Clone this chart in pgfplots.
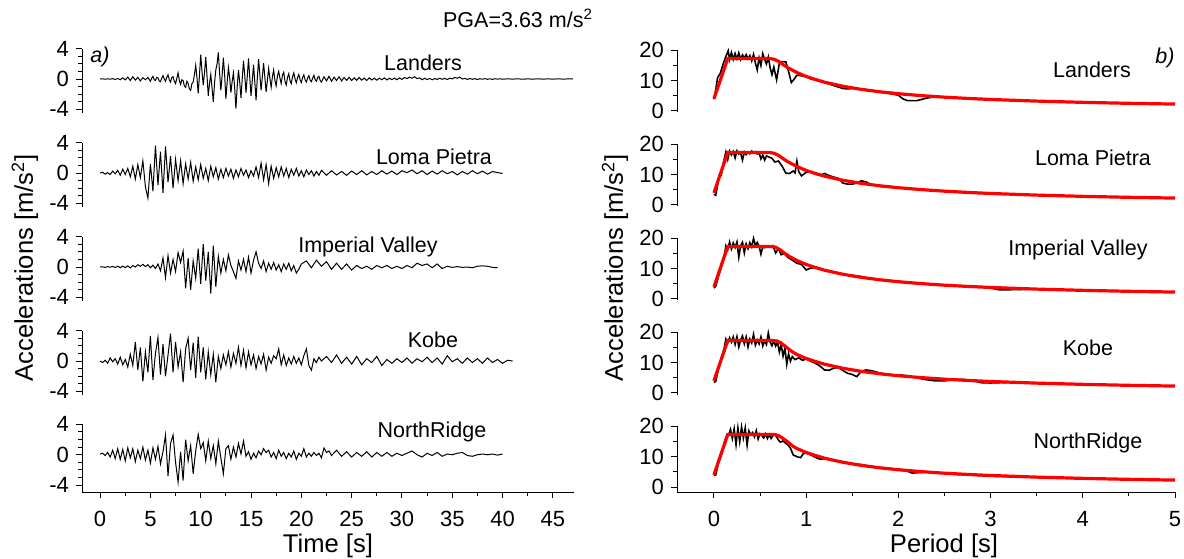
\documentclass[border=0pt]{standalone}
\usepackage{pgfplots}
\pgfplotsset{compat=1.18}
\usepackage{fontspec}
\setmainfont{Liberation Sans}
\begin{document}
\begin{tikzpicture}[x=1pt,y=1pt]
\useasboundingbox (0,0) rectangle (592,279);
\pgfplotsset{
  base/.style={scale only axis, clip=false,
    axis line style={-, line width=0.5pt}, tick align=outside,
    major tick length=3pt, minor tick length=1.8pt,
    every tick/.style={line width=0.5pt, black},
    every tick label/.append style={font=\fontsize{11}{12}\selectfont},
    xticklabel style={yshift=-3pt},
    /pgf/number format/assume math mode=true},
  up/.style={axis x line=none, axis y line*=left},
  bot/.style={axis x line*=bottom, axis y line*=left},
  lft/.style={base, width=246pt, xmin=-1.8, xmax=47.1, ymax=4, ytick={-4,0,4}, minor y tick num=3},
  lftup/.style={lft, up, ymin=-4.5, height=32.3pt},
  rgt/.style={base, width=249pt, xmin=-0.4, xmax=5, ymax=20, ytick={0,10,20}, minor y tick num=1},
  rgtup/.style={rgt, up, ymin=-0.5, height=31.06pt},
  acc/.style={black, line width=0.5pt},
  spk/.style={black, line width=0.8pt},
  dsg/.style={red, line width=1.6pt},
}
% ---------------- left column ----------------
\begin{axis}[lftup, at={(41pt,222.4pt)}, anchor=south west]
\addplot[acc] coordinates {(0,0)(0.25,0.02)(0.5,-0.03)(0.75,0.02)(1,-0.02)(1.25,0.04)(1.5,-0.05)(1.75,0.06)(2,-0.1)(2.25,0.15)(2.5,-0.12)(2.75,0.25)(3,-0.2)(3.25,0.3)(3.5,-0.15)(3.75,0.22)(4,-0.25)(4.25,0.18)(4.5,-0.1)(4.75,0.2)
(5,-0.3)(5.125,0.1)(5.25,0.35)(5.375,-0.1)(5.5,-0.2)(5.625,0.2)(5.75,0.15)(5.875,-0.25)(6,-0.35)(6.125,0.1)(6.25,0.45)(6.375,0.0)(6.5,-0.3)(6.625,0.2)(6.75,0.55)(6.875,-0.1)(7,-0.4)(7.125,0.2)(7.25,0.3)(7.375,-0.3)(7.5,-0.6)(7.625,0.1)(7.75,0.8)(7.875,-0.2)(8,-0.7)(8.125,-0.1)(8.25,-0.2)(8.375,-0.9)(8.5,-1.1)(8.625,-0.3)(8.75,-0.6)(8.875,-1.3)(9,-1.5)(9.125,-0.6)(9.25,-0.4)(9.375,0.6)(9.5,1.8)(9.625,0.2)(9.75,-1.9)(9.875,0.5)(10,3.2)(10.125,1.0)(10.25,-0.8)(10.375,0.8)(10.5,2.9)(10.625,0.4)(10.75,-2.2)(10.875,-0.6)(11,0.6)(11.125,-1.2)(11.25,-3.0)(11.375,-0.5)(11.5,1.2)(11.625,2.0)(11.75,3.5)(11.875,0.8)(12,-1.5)(12.125,0.4)(12.25,2.8)(12.375,0.6)(12.5,-2.6)(12.625,-0.5)(12.75,1.5)(12.875,0.2)(13,-1.8)(13.125,-0.3)(13.25,0.8)(13.375,-1.2)(13.5,-3.9)(13.625,-1.0)(13.75,1.2)(13.875,-0.4)(14,-2.5)(14.125,0.0)(14.25,2.4)(14.375,0.5)(14.5,-1.8)(14.625,0.3)(14.75,2.7)(14.875,0.2)(15,-2.2)(15.125,-0.2)(15.25,1.9)(15.375,-0.4)(15.5,-2.8)(15.625,0.1)(15.75,2.6)(15.875,0.6)(16,-1.5)(16.125,0.3)(16.25,2.1)(16.375,0.2)(16.5,-1.7)(16.625,-0.2)(16.75,1.4)(16.875,0.1)(17,-1.1)(17.125,0.3)(17.25,1.2)(17.375,-0.2)(17.5,-0.9)(17.625,0.4)(17.75,1.0)(17.875,0.1)(18,-0.6)(18.125,0.5)(18.25,0.9)(18.375,-0.3)(18.5,-0.8)(18.625,0.2)(18.75,0.7)(18.875,-0.2)(19,-0.6)(19.125,0.3)(19.25,0.8)(19.375,0.0)(19.5,-0.5)(19.625,0.2)(19.75,0.6)(19.875,-0.1)(20,-0.45)(20.125,0.2)(20.25,0.55)(20.375,-0.1)(20.5,-0.4)(20.625,0.15)(20.75,0.45)(20.875,-0.15)(21,-0.35)(21.125,0.1)(21.25,0.5)(21.375,-0.1)(21.5,-0.3)(21.625,0.2)(21.75,0.35)(21.875,-0.2)
(22,-0.4)(22.25,0.3)(22.5,-0.25)(22.75,0.35)(23,-0.3)(23.25,0.25)(23.5,-0.2)(23.75,0.3)(24,-0.25)(24.25,0.2)(24.5,-0.18)(24.75,0.22)(25,-0.2)(25.25,0.15)(25.5,-0.18)(25.75,0.2)(26,-0.15)(26.25,0.12)(26.5,-0.2)(26.75,0.15)(27,-0.12)(27.25,0.1)(27.5,-0.15)(27.75,0.12)(28,-0.1)(28.25,0.15)(28.5,-0.12)(28.75,0.1)(29,-0.08)(29.25,0.12)(29.5,-0.1)(29.75,0.15)(30,-0.05)(30.25,0.2)(30.5,0.05)(30.75,0.25)(31,0.1)(31.25,0.3)(31.5,0.05)(31.75,0.15)(32,-0.1)(32.25,0.1)(32.5,-0.08)(32.75,0.08)(33,-0.1)(33.25,0.06)(33.5,-0.05)(33.75,0.1)(34,-0.04)(34.25,0.08)(34.5,-0.06)(34.75,0.1)(35,0.02)(35.25,0.2)(35.5,0.1)(35.75,0.25)(36,0.0)(36.25,0.08)(36.5,-0.05)(36.75,0.06)(37,-0.04)(37.25,0.05)(37.5,-0.06)(37.75,0.04)(38,-0.03)(38.25,0.05)(38.5,-0.04)(38.75,0.03)(39,-0.05)(39.25,0.04)(39.5,-0.02)(39.75,0.03)(40,-0.03)(40.5,0.03)(41,-0.02)(41.5,0.03)(42,-0.03)(42.5,0.02)(43,-0.02)(43.5,0.03)(44,-0.02)(44.5,0.02)(45,-0.02)(45.5,0.02)(46,-0.01)(46.5,0.01)(47,0)};
\end{axis}
\begin{axis}[lftup, at={(41pt,175.4pt)}, anchor=south west]
\addplot[acc] coordinates {(0,0)(0.25,0.1)(0.5,-0.15)(0.75,0.05)(1,-0.2)(1.25,0.25)(1.5,-0.1)(1.75,0.35)(2,-0.3)(2.25,0.5)(2.5,-0.2)(2.75,0.6)(3,-0.5)(3.25,0.9)(3.5,-0.8)(3.75,1.1)(4,-0.6)(4.25,1.6)(4.5,-1.8)(4.75,-3.3)(5,1.2)(5.25,-2.4)(5.5,3.6)(5.75,-1.6)(6,2.8)(6.25,-2.6)(6.5,3.5)(6.75,-1.2)(7,2.2)(7.25,-2.0)(7.5,1.8)(7.75,-1.0)(8,1.6)(8.25,-1.4)(8.5,1.2)(8.75,-0.8)(9,1.4)(9.25,-1.1)(9.5,0.8)(9.75,-0.9)(10,1.1)(10.25,-0.7)(10.5,0.6)(10.75,-1.0)(11,0.9)(11.25,-0.5)(11.5,0.7)(11.75,-0.8)(12,0.5)(12.25,-0.6)(12.5,0.6)(12.75,-0.4)(13,0.5)(13.25,-0.7)(13.5,0.4)(13.75,-0.5)(14,0.6)(14.25,-0.3)(14.5,0.4)(14.75,-0.6)(15,0.3)(15.25,-0.4)(15.5,0.8)(15.75,-0.6)(16,1.3)(16.25,-0.9)(16.5,1.1)(16.75,-1.4)(17,0.9)(17.25,-0.7)(17.5,0.7)(17.75,-0.5)(18,0.8)(18.25,-0.4)(18.5,0.6)(18.75,-0.6)(19,0.5)(19.25,-0.3)(19.5,0.6)(19.75,-0.4)(20,0.3)(20.25,-0.5)(20.5,0.4)(20.75,-0.2)(21,0.3)(21.25,-0.4)(21.5,0.2)(21.75,-0.3)(22,0.35)(22.5,-0.3)(23,0.3)(23.5,-0.25)(24,0.2)(24.5,-0.3)(25,0.25)(25.5,-0.2)(26,0.3)(26.5,-0.25)(27,0.2)(27.5,-0.2)(28,0.3)(28.5,-0.15)(29,0.25)(29.5,-0.2)(30,0.3)(30.5,0.05)(31,0.4)(31.5,-0.1)(32,0.3)(32.5,-0.2)(33,0.25)(33.5,-0.15)(34,0.3)(34.5,-0.1)(35,0.2)(35.5,-0.25)(36,0.2)(36.5,-0.15)(37,0.3)(37.5,-0.1)(38,0.25)(38.5,-0.15)(39,0.2)(39.5,0.05)(40,-0.05)};
\end{axis}
\begin{axis}[lftup, at={(41pt,128.4pt)}, anchor=south west]
\addplot[acc] coordinates {(0,0)(0.25,0.02)(0.5,-0.05)(0.75,0.05)(1,-0.03)(1.25,0.08)(1.5,-0.06)(1.75,0.1)(2,-0.1)(2.25,0.12)(2.5,-0.08)(2.75,0.15)(3,-0.12)(3.25,0.2)(3.5,0.0)(3.75,0.3)(4,0.1)(4.25,0.35)(4.5,0.05)(4.75,0.3)(5,-0.1)(5.25,0.25)(5.5,-0.2)(5.75,0.4)(6,-0.5)(6.25,1.2)(6.5,-1.4)(6.75,1.5)(7,-0.8)(7.25,1.0)(7.5,-0.6)(7.75,1.9)(8,0.6)(8.25,2.1)(8.5,-2.8)(8.75,1.2)(9,-3.0)(9.25,0.8)(9.5,-1.5)(9.75,2.4)(10,-2.2)(10.25,3.0)(10.5,-1.8)(10.75,2.0)(11,-3.5)(11.25,2.8)(11.5,-2.6)(11.75,1.4)(12,-0.8)(12.25,1.0)(12.5,-0.5)(12.75,1.6)(13,0.2)(13.25,-0.6)(13.5,-1.5)(13.75,0.8)(14,-0.4)(14.25,1.0)(14.5,-0.6)(14.75,1.3)(15,-0.8)(15.25,0.9)(15.5,2.0)(15.75,0.5)(16,-0.2)(16.25,0.8)(16.5,-0.6)(16.75,0.5)(17,-0.3)(17.25,0.6)(17.5,-0.4)(17.75,0.3)(18,-0.6)(18.25,0.4)(18.5,-0.3)(18.75,0.5)(19,-0.5)(19.25,0.2)(19.5,-0.8)(19.75,-0.3)(20,0.4)(20.5,0.8)(21,-0.1)(21.5,0.9)(22,0.1)(22.5,0.7)(23,-0.3)(23.5,0.5)(24,-0.3)(24.5,0.4)(25,-0.4)(25.5,0.2)(26,-0.2)(26.5,0.1)(27,-0.3)(27.5,0.2)(28,-0.1)(28.5,0.2)(29,-0.2)(29.5,0.1)(30,-0.2)(30.5,0.2)(31,-0.1)(31.5,0.5)(32,0.2)(32.5,0.4)(33,-0.1)(33.5,0.4)(34,-0.2)(34.5,0.1)(35,-0.05)(35.5,0.05)(36,-0.05)(36.5,0.0)(37,-0.1)(37.5,0.1)(38,0.15)(38.5,0.1)(39,-0.05)(39.5,-0.1)};
\end{axis}
\begin{axis}[lftup, at={(41pt,81.4pt)}, anchor=south west]
\addplot[acc] coordinates {(0,0)(0.25,-0.2)(0.5,0.1)(0.75,-0.3)(1,0.4)(1.25,-0.1)(1.5,0.3)(1.75,-0.4)(2,0.5)(2.25,-0.5)(2.5,0.2)(2.75,-0.8)(3,0.9)(3.25,-0.6)(3.5,2.5)(3.75,-1.2)(4,1.8)(4.25,-2.7)(4.5,1.2)(4.75,-1.5)(5,3.3)(5.25,-2.5)(5.5,1.0)(5.75,3.1)(6,-1.8)(6.25,2.2)(6.5,-2.0)(6.75,0.8)(7,3.6)(7.25,-1.5)(7.5,2.5)(7.75,-0.8)(8,1.2)(8.25,-2.8)(8.5,1.6)(8.75,3.0)(9,-1.2)(9.25,2.4)(9.5,-2.2)(9.75,3.2)(10,-1.5)(10.25,1.8)(10.5,-2.4)(10.75,1.2)(11,-1.8)(11.25,0.9)(11.5,-2.8)(11.75,0.6)(12,-1.0)(12.25,0.8)(12.5,-0.5)(12.75,1.2)(13,-0.8)(13.25,1.0)(13.5,-0.3)(13.75,1.8)(14,-0.6)(14.25,1.4)(14.5,-0.9)(14.75,1.2)(15,-0.5)(15.25,0.8)(15.5,-1.0)(15.75,0.6)(16,-0.4)(16.25,0.9)(16.5,-1.2)(16.75,0.5)(17,-0.3)(17.25,0.7)(17.5,0.3)(17.75,1.6)(18,-0.5)(18.25,0.8)(18.5,-0.6)(18.75,0.4)(19,-0.4)(19.25,0.6)(19.5,-0.3)(19.75,0.4)(20,-0.5)(20.25,0.7)(20.5,1.6)(20.75,-0.6)(21,-1.2)(21.25,0.3)(21.5,-0.2)(21.75,0.5)(22,0.0)(22.5,0.6)(23,-0.2)(23.5,0.8)(24,-0.3)(24.5,0.5)(25,-0.4)(25.5,0.6)(26,-0.5)(26.5,0.3)(27,-0.2)(27.5,0.6)(28,-0.6)(28.5,0.2)(29,-0.3)(29.5,0.3)(30,-0.2)(30.5,0.4)(31,-0.3)(31.5,0.3)(32,-0.1)(32.5,0.5)(33,-0.2)(33.5,0.4)(34,-0.4)(34.5,0.7)(35,-0.1)(35.5,0.3)(36,-0.3)(36.5,0.4)(37,-0.2)(37.5,0.3)(38,-0.3)(38.5,0.4)(39,-0.2)(39.5,0.2)(40,-0.3)(40.5,0.1)(41,0.0)};
\end{axis}
\begin{axis}[lft, bot, ymin=-4.9, height=33.82pt, at={(41pt,33pt)}, anchor=south west,
  xtick={0,5,...,45}, minor x tick num=1]
\addplot[acc] coordinates {(0,0.1)(0.25,0.2)(0.5,-0.1)(0.75,0.3)(1,-0.3)(1.25,0.6)(1.5,-0.5)(1.75,0.8)(2,-0.6)(2.25,0.7)(2.5,-0.8)(2.75,0.9)(3,-0.4)(3.25,0.8)(3.5,-0.9)(3.75,0.6)(4,-0.5)(4.25,1.0)(4.5,-0.7)(4.75,0.6)(5,-1.1)(5.25,0.9)(5.5,-0.6)(5.75,1.1)(6,-1.2)(6.25,0.4)(6.5,2.6)(6.75,-2.8)(7,1.5)(7.25,2.6)(7.5,-1.0)(7.75,-3.6)(8,0.4)(8.25,-3.4)(8.5,2.0)(8.75,-0.8)(9,1.2)(9.25,-2.5)(9.5,0.5)(9.75,2.7)(10,0.8)(10.25,1.6)(10.5,-0.8)(10.75,1.8)(11,-0.5)(11.25,1.2)(11.5,-1.2)(11.75,1.8)(12,-0.4)(12.25,-2.5)(12.5,0.8)(12.75,1.2)(13,-0.6)(13.25,1.0)(13.5,-0.3)(13.75,1.5)(14,0.1)(14.25,1.8)(14.5,-0.2)(14.75,0.4)(15,-0.6)(15.25,0.2)(15.5,-0.4)(15.75,0.5)(16,0.0)(16.25,0.8)(16.5,0.3)(16.75,0.6)(17,-0.3)(17.25,0.3)(17.5,-0.5)(17.75,0.6)(18,-0.2)(18.25,0.3)(18.5,-0.5)(18.75,0.2)(19,-0.3)(19.25,0.5)(19.5,-0.6)(19.75,0.2)(20,-0.2)(20.25,0.8)(20.5,-0.3)(20.75,0.2)(21,-0.2)(21.25,0.3)(21.5,-0.1)(21.75,0.2)(22,-0.4)(22.25,0.9)(22.5,0.3)(22.75,0.5)(23,-0.1)(23.5,0.6)(24,-0.2)(24.5,0.4)(25,-0.3)(25.5,0.3)(26,-0.2)(26.5,0.4)(27,-0.3)(27.5,0.3)(28,-0.2)(28.5,0.3)(29,-0.2)(29.5,0.2)(30,-0.1)(30.5,0.2)(31,0.5)(31.5,0.0)(32,-0.3)(32.5,0.2)(33,-0.1)(33.5,0.3)(34,-0.2)(34.5,0.1)(35,0.0)(35.5,0.2)(36,0.3)(36.5,-0.1)(37,-0.2)(37.5,0.0)(38,0.1)(38.5,0.0)(39,0.1)(39.5,-0.05)(40,0.1)};
\end{axis}
% ---------------- right column ----------------
\begin{axis}[rgtup, at={(338.5pt,222.75pt)}, anchor=south west]
\addplot[spk] coordinates {(0,3.9)(0.02,7)(0.04,11)(0.07,12.5)(0.1,15.5)(0.13,18)(0.155,19.9)(0.17,17)(0.19,19.3)(0.21,17)(0.23,19)(0.25,17.2)(0.27,19.2)(0.29,17)(0.31,18.5)(0.33,17.5)(0.35,18.6)(0.37,17.2)(0.39,18.3)(0.41,16.5)(0.43,18.7)(0.45,15.8)(0.47,13.6)(0.49,17.5)(0.51,15)(0.53,18.9)(0.55,17)(0.57,15.5)(0.59,17.8)(0.61,14.2)(0.63,12)(0.65,14.5)(0.68,10.3)(0.71,15.8)(0.74,16.3)(0.78,16.2)(0.81,13)(0.84,9.4)(0.87,10.5)(0.9,11.8)(0.95,11.6)(1.0,11.3)(1.05,10.6)(1.1,10.2)(1.2,9.4)(1.3,8.4)(1.4,7.4)(1.45,7.3)(1.5,7.4)(1.6,7.2)(1.7,6.8)(1.8,6.2)(1.9,5.8)(2.0,5.2)(2.05,4.0)(2.1,3.4)(2.2,3.4)(2.3,4.2)(2.4,4.7)(2.5,4.6)(2.7,4.2)(3.0,3.8)(3.5,3.25)(4.0,2.85)(4.5,2.5)(5.0,2.3)};
\addplot[dsg] coordinates {(0,4.0)(0.15,17.3)(0.6,17.3)(0.65,17.1)(0.7,16.4)(0.75,15.3)(0.8,14.3)(0.9,12.7)(1.0,11.4)(1.1,10.4)(1.2,9.5)(1.4,8.15)(1.6,7.13)(1.8,6.33)(2.0,5.7)(2.25,5.07)(2.5,4.56)(2.75,4.15)(3.0,3.8)(3.5,3.26)(4.0,2.85)(4.5,2.53)(5.0,2.28)};
\end{axis}
\begin{axis}[rgtup, at={(338.5pt,175.75pt)}, anchor=south west]
\addplot[spk] coordinates {(0,3.5)(0.02,3.2)(0.04,6.5)(0.06,10)(0.08,9.8)(0.1,13.5)(0.13,17.5)(0.15,15)(0.17,17.8)(0.19,16.5)(0.21,17.6)(0.23,15.5)(0.25,17.9)(0.27,16.8)(0.29,17.2)(0.31,14.8)(0.33,17.5)(0.35,16.6)(0.37,17.4)(0.39,16.9)(0.41,17.8)(0.43,17.2)(0.45,17.6)(0.47,16.8)(0.49,17.3)(0.51,15.2)(0.53,16.5)(0.55,14.8)(0.57,16.2)(0.6,15.8)(0.63,15.4)(0.66,14.2)(0.7,14.5)(0.74,12.8)(0.78,10.5)(0.82,10.4)(0.86,11.2)(0.88,10.6)(0.9,14.5)(0.92,11)(0.95,9.6)(1.0,10.8)(1.05,11)(1.1,10.2)(1.15,9.8)(1.2,10.4)(1.25,9.7)(1.3,9.2)(1.35,8.8)(1.4,7.2)(1.45,6.9)(1.5,6.9)(1.55,7.2)(1.6,8.0)(1.65,7.6)(1.7,6.8)(1.8,6.2)(1.9,5.9)(2.0,5.7)(2.2,5.2)(2.5,4.6)(3.0,3.8)(3.5,3.25)(4.0,2.85)(4.5,2.5)(5.0,2.25)};
\addplot[dsg] coordinates {(0,4.0)(0.15,17.3)(0.6,17.3)(0.65,17.1)(0.7,16.4)(0.75,15.3)(0.8,14.3)(0.9,12.7)(1.0,11.4)(1.1,10.4)(1.2,9.5)(1.4,8.15)(1.6,7.13)(1.8,6.33)(2.0,5.7)(2.25,5.07)(2.5,4.56)(2.75,4.15)(3.0,3.8)(3.5,3.26)(4.0,2.85)(4.5,2.53)(5.0,2.28)};
\end{axis}
\begin{axis}[rgtup, at={(338.5pt,128.75pt)}, anchor=south west]
\addplot[spk] coordinates {(0,3.6)(0.02,4.2)(0.05,7.5)(0.08,10.5)(0.11,13.5)(0.13,17.5)(0.15,16.2)(0.17,18.8)(0.19,16.5)(0.21,18.5)(0.23,17)(0.25,18.8)(0.27,13.8)(0.29,17.5)(0.31,18.7)(0.33,15.2)(0.35,18.2)(0.37,16.6)(0.39,18.6)(0.41,17.2)(0.43,20)(0.45,17.6)(0.47,18.7)(0.49,17.5)(0.51,14.8)(0.53,17.2)(0.55,16.9)(0.58,17.5)(0.61,17.2)(0.64,17.6)(0.67,15.2)(0.7,16.6)(0.73,14.6)(0.76,15)(0.8,13.8)(0.85,12.8)(0.9,11.8)(0.95,11.4)(1.0,9.6)(1.05,10.2)(1.1,10.4)(1.2,9.6)(1.3,8.8)(1.4,8.0)(1.5,7.8)(1.6,7.4)(1.7,6.6)(1.8,6.4)(2.0,5.8)(2.2,5.2)(2.5,4.5)(2.7,4.2)(2.8,4.3)(3.0,3.6)(3.1,3.0)(3.3,3.1)(3.5,3.3)(3.8,3.0)(4.0,2.9)(4.5,2.6)(5.0,2.3)};
\addplot[dsg] coordinates {(0,4.0)(0.15,17.3)(0.62,17.3)(0.67,17.1)(0.72,16.2)(0.77,15.0)(0.82,14.0)(0.9,12.7)(1.0,11.4)(1.1,10.4)(1.2,9.5)(1.4,8.15)(1.6,7.13)(1.8,6.33)(2.0,5.7)(2.25,5.07)(2.5,4.56)(2.75,4.15)(3.0,3.8)(3.5,3.26)(4.0,2.85)(4.5,2.53)(5.0,2.28)};
\end{axis}
\begin{axis}[rgtup, at={(338.5pt,81.75pt)}, anchor=south west]
\addplot[spk] coordinates {(0,3.5)(0.02,3.8)(0.05,8)(0.08,11.5)(0.11,14.5)(0.13,17.8)(0.15,16.5)(0.17,18.2)(0.19,16.8)(0.21,18.5)(0.23,16)(0.25,18.6)(0.27,15.2)(0.29,17.5)(0.31,18.8)(0.33,16.2)(0.35,18.5)(0.37,15.2)(0.39,17.8)(0.41,16.5)(0.43,19.3)(0.45,15.8)(0.47,17.5)(0.49,16.2)(0.51,18.5)(0.53,15.5)(0.55,17.2)(0.57,16)(0.59,19.8)(0.61,16.8)(0.63,15.6)(0.65,17.2)(0.67,15.5)(0.69,16.8)(0.71,13.5)(0.73,16)(0.75,12.2)(0.77,14.8)(0.79,9.5)(0.81,13)(0.83,10.5)(0.85,12)(0.88,11)(0.92,11.6)(0.96,10.8)(1.0,11.2)(1.05,10.5)(1.1,9.8)(1.15,8.9)(1.2,7.6)(1.25,7.5)(1.3,8.2)(1.35,8.4)(1.4,7.4)(1.45,6.5)(1.5,6.1)(1.55,5.4)(1.6,7.2)(1.65,7.6)(1.7,7.4)(1.8,6.6)(1.9,6.0)(2.0,6.0)(2.1,5.7)(2.2,5.0)(2.3,4.4)(2.4,4.0)(2.5,4.0)(2.6,4.4)(2.7,4.5)(2.8,4.1)(2.9,3.4)(3.0,3.3)(3.2,3.5)(3.5,3.3)(4.0,2.85)(4.5,2.5)(5.0,2.3)};
\addplot[dsg] coordinates {(0,4.0)(0.15,17.3)(0.64,17.3)(0.69,17.1)(0.74,16.2)(0.79,15.0)(0.84,13.8)(0.9,12.7)(1.0,11.4)(1.1,10.4)(1.2,9.5)(1.4,8.15)(1.6,7.13)(1.8,6.33)(2.0,5.7)(2.25,5.07)(2.5,4.56)(2.75,4.15)(3.0,3.8)(3.5,3.26)(4.0,2.85)(4.5,2.53)(5.0,2.28)};
\end{axis}
\begin{axis}[rgt, bot, ymin=-1.65, height=32.8pt, at={(338.5pt,33pt)}, anchor=south west,
  xtick={0,1,2,3,4,5}, minor x tick num=1]
\addplot[spk] coordinates {(0,3.8)(0.02,4)(0.05,8)(0.08,10.5)(0.1,12.5)(0.12,15.5)(0.14,16.8)(0.16,17.2)(0.18,19)(0.2,16)(0.22,19.2)(0.24,14)(0.26,19.5)(0.28,15)(0.3,19.8)(0.32,16.2)(0.34,19.5)(0.36,13.8)(0.38,18.5)(0.40,17.2)(0.42,18)(0.44,16.5)(0.46,18.6)(0.48,15.8)(0.50,17.6)(0.52,17)(0.54,16.2)(0.56,17.5)(0.58,16)(0.6,17.3)(0.62,16)(0.64,16.9)(0.66,17.4)(0.68,16.5)(0.7,15.5)(0.72,14.8)(0.75,15.2)(0.78,14.4)(0.8,14)(0.83,12.8)(0.86,10.6)(0.9,10)(0.94,9.7)(0.97,11)(1.0,11.2)(1.05,10.6)(1.1,9.8)(1.15,9.2)(1.2,9.3)(1.3,8.8)(1.4,8.3)(1.5,7.6)(1.6,7.4)(1.7,6.8)(1.8,6.4)(1.9,6.2)(2.0,5.7)(2.1,5.2)(2.15,4.6)(2.2,4.7)(2.3,4.9)(2.4,4.8)(2.6,4.2)(2.8,3.9)(3.0,3.6)(3.5,3.2)(4.0,2.8)(4.5,2.5)(5.0,2.25)};
\addplot[dsg] coordinates {(0,4.0)(0.15,17.3)(0.66,17.3)(0.7,17.0)(0.75,16.0)(0.8,14.9)(0.85,13.6)(0.9,12.7)(1.0,11.4)(1.1,10.4)(1.2,9.5)(1.4,8.15)(1.6,7.13)(1.8,6.33)(2.0,5.7)(2.25,5.07)(2.5,4.56)(2.75,4.15)(3.0,3.8)(3.5,3.26)(4.0,2.85)(4.5,2.53)(5.0,2.28)};
\end{axis}
% ---------------- texts ----------------
\begin{scope}[every node/.style={font=\fontsize{10.75}{12}\selectfont, inner sep=0pt}]
\node at (259,270) {PGA=3.63 m/s\textsuperscript{2}};
\node at (50,250.5) {\itshape a)};
\node at (582.5,250) {\itshape b)};
\node at (211.5,247.5) {Landers};
\node at (217,200.5) {Loma Pietra};
\node at (184,155.5) {Imperial Valley};
\node at (216.5,109) {Kobe};
\node at (216,63) {NorthRidge};
\node at (546,244) {Landers};
\node at (546.5,200) {Loma Pietra};
\node at (539,154) {Imperial Valley};
\node at (544,105) {Kobe};
\node at (544,57.5) {NorthRidge};
\end{scope}
\begin{scope}[every node/.style={font=\fontsize{12.8}{14}\selectfont, inner sep=0pt}]
\node[rotate=90] at (12.5,145) {Accelerations [m/s\textsuperscript{2}]};
\node[rotate=90] at (307.5,145) {Accelerations [m/s\textsuperscript{2}]};
\node at (164,6) {Time [s]};
\node at (472,6) {Period [s]};
\end{scope}
\end{tikzpicture}
\end{document}
